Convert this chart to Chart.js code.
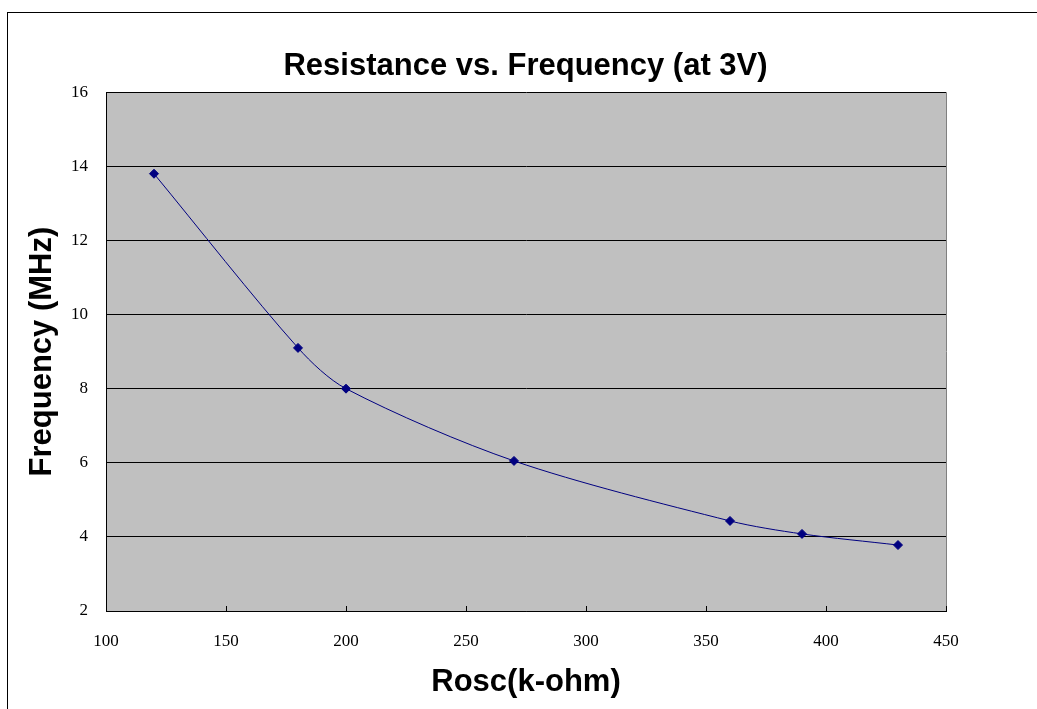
<html>
<head>
<meta charset="utf-8">
<style>
    body { margin: 0; background: #fff; }
    #wrap { position: relative; width: 1037px; height: 709px; }
    #frame { position: absolute; left: 7px; top: 12px; width: 1100px; height: 800px; border-left: 1px solid #000; border-top: 1px solid #000; pointer-events: none; }
</style>
</head>
<body>
<div id="wrap">
    <canvas id="freqChart" width="1037" height="709"></canvas>
    <div id="frame"></div>
</div>
<script src="https://cdn.jsdelivr.net/npm/chart.js"></script>
<script>
    // 측정값 (Rosc k-ohm / MHz)
    const rosc = [120, 180, 200, 270, 360, 390, 430];
    const freq = [13.8, 9.1, 8.0, 6.05, 4.43, 4.08, 3.78];
    const xTicks = [100, 150, 200, 250, 300, 350, 400, 450];
    const yTicks = [2, 4, 6, 8, 10, 12, 14, 16];

    const navy = '#000080';
    const titleFont = { family: 'Liberation Sans, Arial', size: 31, weight: 'bold' };
    const tickFont = { family: 'Liberation Serif, Times New Roman', size: 17 };

    // 회색 플롯 배경 + 안쪽 눈금
    const plotBg = {
        id: 'plotBg',
        beforeDraw(chart) {
            const {ctx, chartArea: a} = chart;
            ctx.save();
            ctx.fillStyle = '#c0c0c0';
            ctx.fillRect(a.left, a.top, a.right - a.left, a.bottom - a.top);
            ctx.strokeStyle = '#808080';
            ctx.lineWidth = 1;
            ctx.beginPath();
            ctx.moveTo(a.right + 0.5, a.top);
            ctx.lineTo(a.right + 0.5, a.bottom);
            ctx.stroke();
            ctx.restore();
        },
        afterDatasetsDraw(chart) {
            const {ctx, chartArea: a, scales} = chart;
            ctx.save();
            ctx.strokeStyle = '#000';
            ctx.lineWidth = 1;
            ctx.beginPath();
            xTicks.forEach(v => {
                const px = Math.round(scales.x.getPixelForValue(v)) + 0.5;
                ctx.moveTo(px, a.bottom);
                ctx.lineTo(px, a.bottom - 5);
            });
            ctx.stroke();
            ctx.restore();
        }
    };

    const ctx = document.getElementById('freqChart').getContext('2d');
    new Chart(ctx, {
        type: 'scatter',
        data: {
            datasets: [{
                data: rosc.map((r, i) => ({x: r, y: freq[i]})),
                showLine: true,
                borderColor: navy,
                borderWidth: 1,
                tension: 0.3,
                pointStyle: 'rectRot',
                pointRadius: 4.5,
                pointBackgroundColor: navy,
                pointBorderColor: navy
            }]
        },
        options: {
            responsive: false,
            animation: false,
            layout: { padding: { left: 14, right: 0, top: 0, bottom: 0 } },
            plugins: {
                legend: { display: false },
                tooltip: { enabled: false },
                title: {
                    display: true,
                    text: 'Resistance vs. Frequency (at 3V)',
                    color: '#000',
                    font: titleFont,
                    padding: { top: 48, bottom: 7 }
                }
            },
            scales: {
                x: {
                    type: 'linear',
                    min: 100,
                    max: 450,
                    afterBuildTicks: s => { s.ticks = xTicks.map(v => ({value: v})); },
                    afterFit: s => { s.height = 98; },
                    grid: { display: false, drawTicks: false },
                    border: { color: '#000', width: 1 },
                    ticks: { color: '#000', padding: 20, maxRotation: 0, font: tickFont },
                    title: {
                        display: true,
                        text: 'Rosc(k-ohm)',
                        color: '#000',
                        font: titleFont,
                        padding: { top: 0, bottom: 8 }
                    }
                },
                y: {
                    min: 2,
                    max: 16,
                    afterBuildTicks: s => { s.ticks = yTicks.map(v => ({value: v})); },
                    afterFit: s => { s.width = 92; },
                    grid: { drawTicks: false, color: '#000', lineWidth: 1 },
                    border: { color: '#000', width: 1 },
                    ticks: { color: '#000', padding: 18, font: tickFont },
                    title: {
                        display: true,
                        text: 'Frequency (MHz)',
                        color: '#000',
                        font: titleFont,
                        padding: { top: 10, bottom: 0 }
                    }
                },
                // 오른쪽 여백용 빈 축
                yRight: {
                    position: 'right',
                    min: 2,
                    max: 16,
                    afterFit: s => { s.width = 91; },
                    grid: { display: false, drawTicks: false },
                    border: { display: false },
                    ticks: { display: false }
                }
            }
        },
        plugins: [plotBg]
    });
</script>
</body>
</html>
